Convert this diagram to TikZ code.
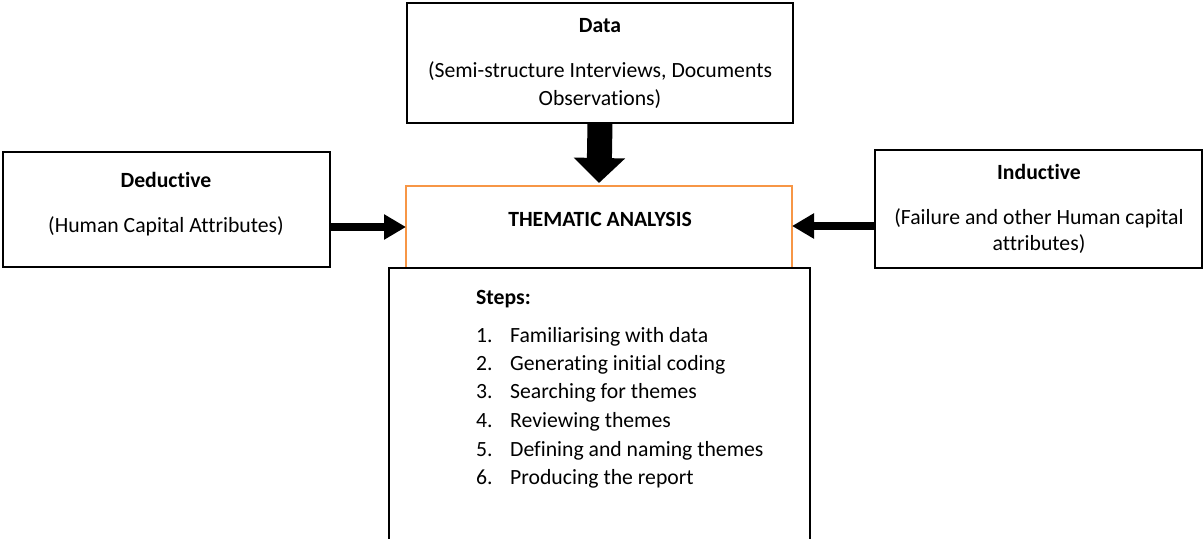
\documentclass[tikz,border=0pt]{standalone}
\usepackage{fontspec}
\setmainfont{Carlito}[Ligatures={NoCommon}]
\usetikzlibrary{arrows.meta}
\definecolor{accentorange}{HTML}{F79646}
\tikzset{
  box/.style={draw=black, line width=1.4pt, inner sep=0pt, outer sep=0pt, anchor=north west, fill=white},
  obox/.style={draw=accentorange, line width=1.4pt, inner sep=0pt, outer sep=0pt, anchor=north west, fill=white},
  txt/.style={inner sep=0pt, font=\fontsize{21.7}{26}\selectfont},
  fatdown/.style={line width=25pt, -{Triangle[width=50pt,length=25pt]}},
  fatside/.style={line width=8pt, -{Triangle[width=24pt,length=22pt]}}
}
\begin{document}
\begin{tikzpicture}[x=1pt,y=-1pt]
\useasboundingbox (0,0) rectangle (1204,538);

% boxes
\node[box, minimum width=386pt, minimum height=120pt] (data) at (407,3) {};
\node[box, minimum width=327pt, minimum height=115pt] (ded) at (3,152) {};
\node[box, minimum width=327pt, minimum height=118pt] (ind) at (875,150) {};
\node[obox, minimum width=386pt, minimum height=94pt] (them) at (406,186) {};
\node[box, minimum width=421pt, minimum height=272pt] (steps) at (389,268) {};

% box texts
\node[txt, anchor=base] (dataT) at (600,32) {\bfseries Data};
\node[txt, anchor=base] (dataA) at (600,77) {(Semi-structure Interviews, Documents};
\node[txt, anchor=base] (dataB) at (600,105) {Observations)};

\node[txt, anchor=base] (dedT) at (166,187) {\bfseries Deductive};
\node[txt, anchor=base] (dedA) at (166,232) {(Human Capital Attributes)};

\node[txt, anchor=base] (indT) at (1039,179) {\bfseries Inductive};
\node[txt, anchor=base] (indA) at (1039,224) {(Failure and other Human capital};
\node[txt, anchor=base] (indB) at (1039,250) {attributes)};

\node[txt, anchor=base] (themT) at (600,226) {\bfseries THEMATIC ANALYSIS};

\node[txt, anchor=base west] (stT) at (476,304) {\bfseries Steps:};
\foreach \n/\y/\s in {1/342/Familiarising with data,
                      2/370/Generating initial coding,
                      3/398/Searching for themes,
                      4/427/Reviewing themes,
                      5/456/Defining and naming themes,
                      6/484/Producing the report}{
  \node[txt, anchor=base west] (num\n) at (476,\y) {\n.};
  \node[txt, anchor=base west] (item\n) at (510,\y) {\s};
}

% arrows into the analysis box
\draw[fatdown] (data.south) -- ([yshift=3pt]them.north);
\coordinate (lIn) at ([yshift=6pt]them.west);
\coordinate (rIn) at ([yshift=7pt]them.east);
\draw[fatside] (lIn -| ded.east) -- (lIn);
\draw[fatside] (rIn -| ind.west) -- (rIn);
\end{tikzpicture}
\end{document}
